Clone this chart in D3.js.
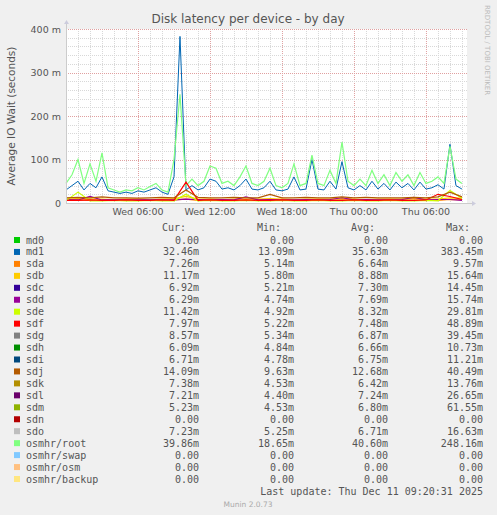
<!DOCTYPE html>
<html><head><meta charset="utf-8">
<script src="https://cdn.jsdelivr.net/npm/d3@7"></script>
<style>body{margin:0;background:#f0f0f0}</style>
</head><body>
<svg id="c" width="497" height="515"></svg>
<script>
// half-hour samples from Wed 00:00, values in milliseconds
var hours = d3.range(0, 33.5, 0.5);
var root = [45,65,100,45,90,50,115,35,30,25,30,28,35,30,38,45,30,25,100,250,40,55,40,50,85,80,45,50,40,60,85,45,40,50,80,40,35,45,90,40,45,110,45,40,75,45,140,50,40,55,40,75,45,65,40,70,50,65,40,70,45,50,60,45,130,55,45];
var md1 = [30,40,50,30,45,35,60,28,25,22,25,22,28,25,30,35,25,20,60,383,30,40,30,35,55,50,32,35,30,40,55,32,30,35,50,30,28,32,60,30,32,100,32,30,50,32,95,35,30,40,30,50,32,45,30,48,35,45,30,48,32,35,42,32,135,40,32];
// hourly samples of the slower disks
var hourly = d3.range(0, 34, 1);
var sdj = [12,13,12,14,12,12,11,12,13,12,30,13,12,12,13,12,12,20,12,12,13,12,12,14,12,13,12,12,12,13,12,14,25,14];
var sdb = [9,10,9,9,8,9,9,8,9,10,15,9,9,8,9,9,9,10,9,8,9,9,9,10,9,8,9,9,9,10,9,9,12,11];
var sda = [7,7,6,7,6,7,6,7,6,7,9,6,7,6,7,6,7,7,6,7,6,7,6,7,6,7,7,6,7,6,7,6,8,7];
var sdd = [8,7,15,7,8,7,7,8,7,7,9,8,7,8,7,14,7,8,7,7,8,7,8,12,7,8,7,7,8,13,7,8,8,6];
var sde = [5,25,5,5,6,5,5,6,5,5,20,5,6,5,5,6,5,5,6,5,5,6,5,5,6,5,5,6,5,5,6,5,29,11];
var sdf = [6,6,7,6,6,7,6,6,7,6,48,6,7,6,6,7,6,6,7,6,6,7,6,6,7,6,6,7,6,6,7,20,15,8];

var names = ["md0","md1","sda","sdb","sdc","sdd","sde","sdf","sdg","sdh","sdi","sdj","sdk","sdl","sdm","sdn","sdo","osmhr/root","osmhr/swap","osmhr/osm","osmhr/backup"];
var colors = ["#00CC00","#0066B3","#FF8000","#FFCC00","#330099","#990099","#CCFF00","#FF0000","#808080","#008F00","#00487D","#B35A00","#B38F00","#6B006B","#8FB300","#B30000","#BEBEBE","#80FF80","#80C9FF","#FFC080","#FFE680"];
var cur = ["0.00","32.46m","7.26m","11.17m","6.92m","6.29m","11.42m","7.97m","8.57m","6.09m","6.71m","14.09m","7.38m","7.21m","5.23m","0.00","7.23m","39.86m","0.00","0.00","0.00"];
var min = ["0.00","13.09m","5.14m","5.80m","5.21m","4.74m","4.92m","5.22m","5.34m","4.84m","4.78m","9.63m","4.53m","4.40m","4.53m","0.00","5.25m","18.65m","0.00","0.00","0.00"];
var avg = ["0.00","35.63m","6.64m","8.88m","7.30m","7.69m","8.32m","7.48m","6.87m","6.66m","6.75m","12.68m","6.42m","7.24m","6.80m","0.00","6.71m","40.60m","0.00","0.00","0.00"];
var max = ["0.00","383.45m","9.57m","15.64m","14.45m","15.74m","29.81m","48.89m","39.45m","10.73m","11.21m","40.49m","13.76m","26.65m","61.55m","0.00","16.63m","248.16m","0.00","0.00","0.00"];
var timeTicks = [6,12,18,24,30];
var timeLabels = ["Wed 06:00","Wed 12:00","Wed 18:00","Thu 00:00","Thu 06:00"];

var svg = d3.select("#c");
var x = d3.scaleLinear().domain([0, 33.42]).range([66, 467]);
var y = d3.scaleLinear().domain([0, 400]).range([203, 29]);

svg.append("rect").attr("x",66).attr("y",29).attr("width",401).attr("height",174).attr("fill","#fff");

// grid
svg.selectAll(".hm").data(d3.range(1, 34)).join("line")
  .attr("x1", d => x(d)+0.5).attr("x2", d => x(d)+0.5).attr("y1",29).attr("y2",203)
  .attr("stroke", d => d % 6 == 0 ? "#e0a0a0" : "#d8d8d8").attr("stroke-dasharray","1,1");
svg.selectAll(".vm").data(d3.range(20, 401, 20)).join("line")
  .attr("y1", d => Math.round(y(d))+0.5).attr("y2", d => Math.round(y(d))+0.5).attr("x1",66).attr("x2",467)
  .attr("stroke", d => d % 100 == 0 ? "#e0a0a0" : "#d8d8d8").attr("stroke-dasharray","1,1");

// axes
var g = svg.append("g").attr("font-family","DejaVu Sans").attr("font-size","9.5px").attr("fill","#555");
g.selectAll(".yl").data([0,100,200,300,400]).join("text")
  .attr("x",61).attr("y", d => y(d)+3.5).attr("text-anchor","end")
  .text(d => d == 0 ? "0" : d + " m");
g.selectAll(".xl").data(timeTicks).join("text")
  .attr("x", d => x(d)).attr("y",215).attr("text-anchor","middle")
  .text((d,i) => timeLabels[i]);

svg.append("text").attr("x",248).attr("y",23).attr("text-anchor","middle")
  .attr("font-family","DejaVu Sans").attr("font-size","12px").attr("fill","#555")
  .text("Disk latency per device - by day");
svg.append("text").attr("transform","translate(15,116) rotate(-90)").attr("text-anchor","middle")
  .attr("font-family","DejaVu Sans").attr("font-size","10.5px").attr("fill","#555")
  .text("Average IO Wait (seconds)");
svg.append("text").attr("transform","translate(485,5) rotate(90)")
  .attr("font-family","DejaVu Sans").attr("font-size","7px").attr("fill","#bbb")
  .text("RRDTOOL / TOBI OETIKER");

// series
var lineH = d3.line().x((d,i) => x(hourly[i])).y(d => y(d));
var lineF = d3.line().x((d,i) => x(hours[i])).y(d => y(d));
svg.append("path").attr("d", lineF(md1)).attr("fill","none").attr("stroke",colors[1]).attr("stroke-width",1);
svg.append("path").attr("d", lineF(root)).attr("fill","none").attr("stroke",colors[17]).attr("stroke-width",1.2);
[[sda,2],[sdb,3],[sdd,5],[sde,6],[sdf,7],[sdj,11]].forEach(function(s){
  svg.append("path").attr("d", lineH(s[0])).attr("fill","none").attr("stroke",colors[s[1]]).attr("stroke-width",1.2);
});

// axis lines
svg.append("line").attr("x1",66).attr("x2",472).attr("y1",203.5).attr("y2",203.5).attr("stroke","#ccc");
svg.append("line").attr("x1",66.5).attr("x2",66.5).attr("y1",24).attr("y2",203).attr("stroke","#ccc");
svg.append("path").attr("d","M472,201 L476,203.5 L472,206Z").attr("fill","#ccd");
svg.append("path").attr("d","M64,24 L66.5,20 L69,24Z").attr("fill","#ccd");

// legend
var L = svg.append("g").attr("font-family","DejaVu Sans Mono").attr("font-size","10px").attr("fill","#555");
[["Cur:",186],["Min:",281],["Avg:",375],["Max:",470]].forEach(h =>
  L.append("text").attr("x",h[1]).attr("y",231).attr("text-anchor","end").text(h[0]));
var rows = L.selectAll(".r").data(names).join("g").attr("transform",(d,i) => "translate(0," + (240 + i*11.95) + ")");
rows.append("rect").attr("x",14).attr("y",-3).attr("width",6).attr("height",6).attr("fill",(d,i) => colors[i]);
rows.append("text").attr("x",26).attr("y",3.5).text(d => d);
[[cur,199],[min,294],[avg,388],[max,483]].forEach(c =>
  rows.append("text").attr("x",c[1]).attr("y",3.5).attr("text-anchor","end").text((d,i) => c[0][i]));
L.append("text").attr("x",483).attr("y",495).attr("text-anchor","end").text("Last update: Thu Dec 11 09:20:31 2025");
svg.append("text").attr("x",248).attr("y",507).attr("text-anchor","middle")
  .attr("font-family","DejaVu Sans").attr("font-size","7.5px").attr("fill","#aaa").text("Munin 2.0.73");
</script>
</body></html>
